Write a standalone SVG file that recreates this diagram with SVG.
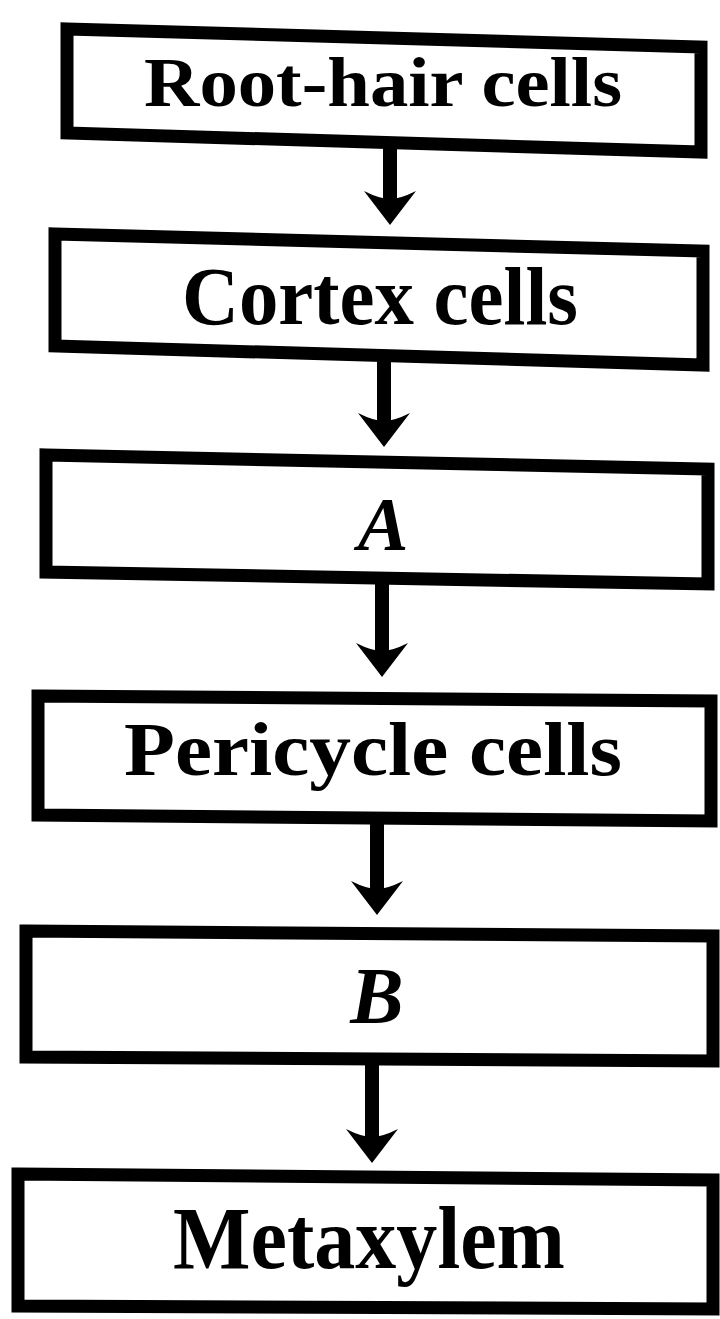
<svg xmlns="http://www.w3.org/2000/svg" width="720" height="1319" viewBox="0 0 720 1319">
<style>
.box{fill:#fff;stroke:#000;stroke-width:13;stroke-linejoin:miter}
.lbl{font-family:"Liberation Serif","Times New Roman",serif;font-weight:bold;fill:#000;text-anchor:middle}
.it{font-style:italic}
.con{stroke:#000;stroke-width:14;fill:none}
</style>
<defs>
<marker id="ah" markerUnits="userSpaceOnUse" viewBox="0 0 34 56" markerWidth="34" markerHeight="56" refX="14" refY="28" orient="auto">
<path d="M34,28 L0,2 Q8,18 8,28 Q8,38 0,54 Z" fill="#000"/>
</marker>
</defs>
<rect width="720" height="1319" fill="#fff"/>
<g id="connectors">
<line class="con" x1="390" y1="148" x2="390" y2="205" marker-end="url(#ah)"/>
<line class="con" x1="384" y1="360" x2="384" y2="427" marker-end="url(#ah)"/>
<line class="con" x1="382" y1="582" x2="382" y2="657" marker-end="url(#ah)"/>
<line class="con" x1="377" y1="818" x2="377" y2="895" marker-end="url(#ah)"/>
<line class="con" x1="372" y1="1060" x2="372" y2="1143" marker-end="url(#ah)"/>
</g>
<g id="root-hair">
<polygon class="box" points="67,29 701,47 701,152 67,133"/>
<text class="lbl" x="383" y="106" font-size="70" textLength="478" lengthAdjust="spacingAndGlyphs">Root-hair cells</text>
</g>
<g id="cortex">
<polygon class="box" points="55,234 703,251 703,365 55,346"/>
<text class="lbl" x="380" y="324" font-size="82" textLength="396" lengthAdjust="spacingAndGlyphs">Cortex cells</text>
</g>
<g id="node-a">
<polygon class="box" points="46,455 708,469 708,584 46,572"/>
<text class="lbl it" x="383" y="550" font-size="76">A</text>
</g>
<g id="pericycle">
<polygon class="box" points="38,696 711,701 711,821 38,815"/>
<text class="lbl" x="373" y="775" font-size="76" textLength="498" lengthAdjust="spacingAndGlyphs">Pericycle cells</text>
</g>
<g id="node-b">
<polygon class="box" points="26,931 713,936 713,1061 26,1057"/>
<text class="lbl it" x="377" y="1023" font-size="80">B</text>
</g>
<g id="metaxylem">
<polygon class="box" points="18,1174 713,1180 713,1309 18,1306"/>
<text class="lbl" x="369" y="1268" font-size="88" textLength="392" lengthAdjust="spacingAndGlyphs">Metaxylem</text>
</g>
</svg>
